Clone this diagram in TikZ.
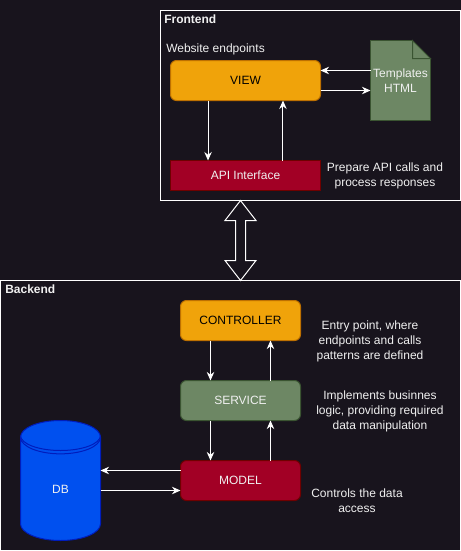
\documentclass[tikz,border=0pt]{standalone}
\usepackage{fontspec}
\setmainfont{Liberation Sans}
\usetikzlibrary{positioning, arrows.meta, shapes.geometric}
\definecolor{bgdark}{HTML}{18141D}
\definecolor{viewfill}{HTML}{F0A30A}
\definecolor{viewline}{HTML}{BD7000}
\definecolor{greenfill}{HTML}{6D8764}
\definecolor{greenline}{HTML}{3A5431}
\definecolor{redfill}{HTML}{A20025}
\definecolor{redline}{HTML}{6F0000}
\definecolor{bluefill}{HTML}{0050EF}
\definecolor{blueline}{HTML}{001DBC}
\definecolor{labeltext}{HTML}{F0F0F0}
\tikzset{
  >={Stealth[length=6.4pt,width=5.6pt]},
  every node/.style={font=\fontsize{9}{11.25}\selectfont},
  layer/.style={draw=white, line width=0.75pt, inner sep=0pt, outer sep=0pt, anchor=north west},
  title/.style={text=labeltext, font=\fontsize{9}{11.25}\selectfont\bfseries, anchor=west, inner sep=0pt},
  comment/.style={text=labeltext, align=center, inner sep=0pt},
  block/.style={draw, line width=0.75pt, minimum width=90pt, minimum height=30pt, inner sep=0pt, outer sep=0pt},
  roundblock/.style={block, rounded corners=4.5pt},
  link/.style={->, draw=white, line width=0.75pt},
}
\begin{document}
\begin{tikzpicture}[x=0.75pt, y=-0.75pt]
      \useasboundingbox[fill=bgdark] (0,0) rectangle (461,551);

      % layers
      \node[layer, minimum width=225pt, minimum height=142.5pt] (front) at (160.5,10.5) {};
      \node[layer, minimum width=345pt, minimum height=202.5pt] (back) at (0.5,280.5) {};
      \node[title] (fronttitle) at (164,19.5) {Frontend};
      \node[title] (backtitle) at (5,289.5) {Backend};

      % frontend
      \node[roundblock, minimum width=112.5pt, fill=viewfill, draw=viewline, text=black] (view) at (245.5,80.5) {VIEW};
      \node[block, minimum width=112.5pt, minimum height=22.5pt, fill=redfill, draw=redline, text=labeltext] (api) at (245.5,175.5) {API Interface};
      \node[block, minimum width=45pt, minimum height=60pt, draw=greenline, fill=greenfill] (html) at (400.5,80.5) {};
      \fill[bgdark] (412,40) -- (431.5,40) -- (431.5,59) -- cycle;
      \draw[greenline, line width=0.75pt, fill=greenfill] (412.5,40.5) -- (412.5,58.5) -- (430.5,58.5) -- cycle;
      \node[text=labeltext, align=center, inner sep=0pt] (htmltext) at (400.5,80.5) {Templates\\HTML};
      \node[comment, anchor=west] (viewnote) at (166,49.5) {Website endpoints};
      \node[comment] (apinote) at (385,175.5) {Prepare API calls and\\process responses};

      \draw[link] ([yshift=7.5pt]html.west) -- ([yshift=7.5pt]view.east);
      \draw[link] ([yshift=-7.5pt]view.east) -- ([yshift=-7.5pt]html.west);
      \draw[link] ([xshift=-28.1pt]view.south) -- ([xshift=-28.1pt]view.south |- api.north);
      \draw[link] ([xshift=28.1pt]api.north) -- ([xshift=28.1pt]api.north |- view.south);

      % between the layers
      \draw[white, fill=bgdark, line width=0.75pt] (240.5,200.5) -- (256,220.5) -- (245.5,220.5) -- (245.5,260.5) -- (256,260.5) -- (240.5,280.5) -- (225,260.5) -- (235.5,260.5) -- (235.5,220.5) -- (225,220.5) -- cycle;

      % backend
      \node[roundblock, fill=viewfill, draw=viewline, text=black] (controller) at (240.5,320.5) {CONTROLLER};
      \node[roundblock, fill=greenfill, draw=greenline, text=labeltext] (service) at (240.5,400.5) {SERVICE};
      \node[roundblock, fill=redfill, draw=redline, text=labeltext] (model) at (240.5,480.5) {MODEL};
      \node[cylinder, shape border rotate=90, aspect=2, anchor=shape center, draw=blueline, fill=bluefill, line width=0.75pt, minimum width=60pt, minimum height=90pt, inner sep=0pt, outer sep=0pt, text=labeltext] (db) at (60.5,480.5) {\raisebox{-1.5pt}{DB}};
      \draw[blueline, line width=0.75pt] (20.5,435.5) arc[start angle=180, end angle=360, x radius=30pt, y radius=11.25pt];
      \node[comment] (controllernote) at (370,341) {Entry point, where\\endpoints and calls\\patterns are defined};
      \node[comment] (servicenote) at (380,411) {Implements businnes\\logic, providing required\\data manipulation};
      \node[comment] (modelnote) at (357,500.5) {Controls the data\\access};

      \draw[link] ([xshift=-22.5pt]controller.south) -- ([xshift=-22.5pt]controller.south |- service.north);
      \draw[link] ([xshift=22.5pt]service.north) -- ([xshift=22.5pt]service.north |- controller.south);
      \draw[link] ([xshift=-22.5pt]service.south) -- ([xshift=-22.5pt]service.south |- model.north);
      \draw[link] ([xshift=22.5pt]model.north) -- ([xshift=22.5pt]model.north |- service.south);
      \draw[link] ([yshift=7.5pt]model.west) -- ([yshift=7.5pt]model.west -| db.east);
      \draw[link] ([yshift=-7.5pt]model.west -| db.east) -- ([yshift=-7.5pt]model.west);
\end{tikzpicture}
\end{document}
